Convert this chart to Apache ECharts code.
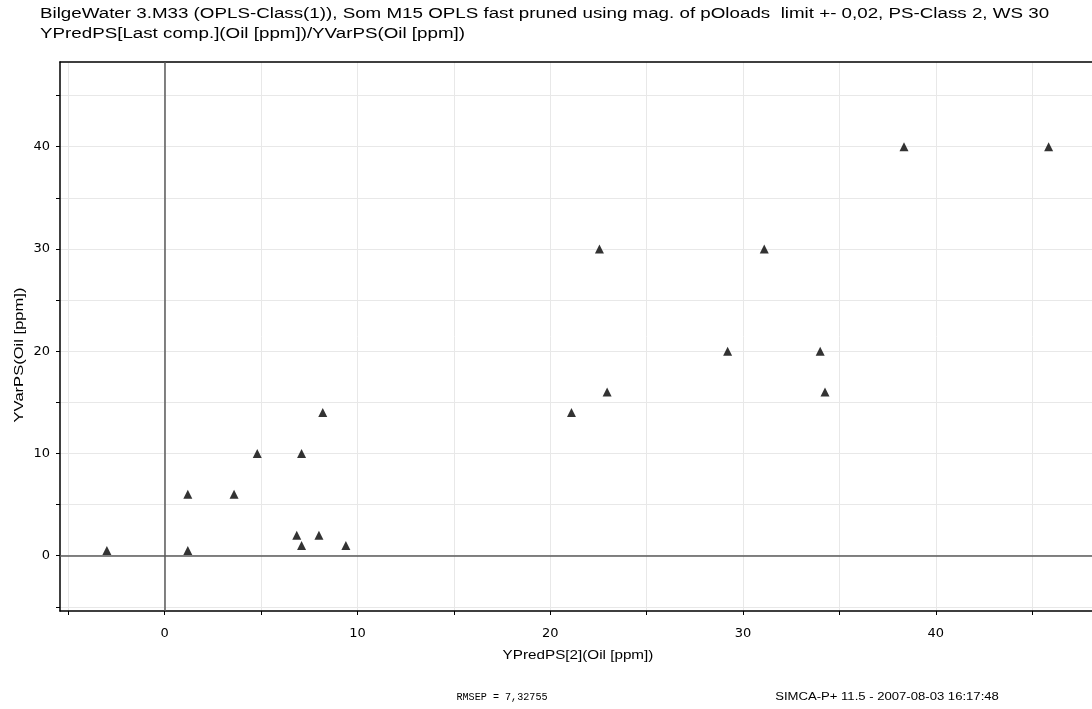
<!DOCTYPE html>
<html>
<head>
<meta charset="utf-8">
<title>YPredPS / YVarPS</title>
<script src="https://cdn.jsdelivr.net/npm/echarts@6/dist/echarts.min.js"></script>
<style>
  html, body { margin: 0; padding: 0; background: #fff; }
  #chart { width: 1092px; height: 709px; }
</style>
</head>
<body>
<div id="chart"></div>
<script>
const yPred = [-3.0, 1.2, 1.2, 3.6, 4.8, 6.85, 7.1, 7.1, 8.0, 8.2, 9.4, 21.1, 22.55, 22.95, 29.2, 31.1, 34.0, 34.25, 38.35, 45.85];
const yVar  = [0.5, 0.5, 6, 6, 10, 2, 1, 10, 2, 14, 1, 14, 30, 16, 20, 30, 20, 16, 40, 40];

const xTicks = [-5, 0, 5, 10, 15, 20, 25, 30, 35, 40, 45];
const yTicks = [-5, 0, 5, 10, 15, 20, 25, 30, 35, 40, 45];
const labelValues = [0, 10, 20, 30, 40];

const titleLines = [
  'BilgeWater 3.M33 (OPLS-Class(1)), Som M15 OPLS fast pruned using mag. of pOloads  limit +- 0,02, PS-Class 2, WS 30',
  'YPredPS[Last comp.](Oil [ppm])/YVarPS(Oil [ppm])'
];

const font = 'Liberation Sans, Arial, sans-serif';
const tickFont = 'DejaVu Sans, sans-serif';

let chart = echarts.init(document.getElementById('chart'));

let axisCommon = {
  type: 'value',
  axisLine: { show: true, onZero: false, lineStyle: { color: '#000', width: 1.5 } },
  axisTick: { show: true, inside: false, length: 4, lineStyle: { color: '#000' } },
  axisLabel: { color: '#000', fontFamily: tickFont, fontSize: 13 },
  splitLine: { show: true, lineStyle: { color: '#e8e8e8', width: 1 } }
};

// the original text is drawn a bit wider than the font, so stretch it
function label(text, x, y, size, sx, extra, fam) {
  return {
    type: 'text', x: x, y: y, scaleX: sx, ...extra,
    style: { text: text, font: size + 'px ' + (fam || font), fill: '#000', verticalAlign: 'middle', ...(extra && extra.style) }
  };
}

let option = {
  animation: false,
  backgroundColor: '#fff',
  grid: { left: 60, top: 62, right: 0, bottom: 98 },
  xAxis: [
    {
      ...axisCommon,
      min: -5.43, max: 48.1,
      axisTick: { ...axisCommon.axisTick, customValues: xTicks },
      axisLabel: { ...axisCommon.axisLabel, customValues: labelValues, margin: 16 }
    },
    {
      type: 'value', position: 'top',
      min: -5.43, max: 48.1,
      axisLine: { show: true, onZero: false, lineStyle: { color: '#000', width: 1.5 } },
      axisTick: { show: false }, axisLabel: { show: false }, splitLine: { show: false }
    }
  ],
  yAxis: {
    ...axisCommon,
    min: -5.41, max: 48.28,
    axisTick: { ...axisCommon.axisTick, customValues: yTicks },
    axisLabel: { ...axisCommon.axisLabel, customValues: labelValues, margin: 10 }
  },
  graphic: [
    label(titleLines[0], 40, 14, 14, 1.34),
    label(titleLines[1], 40, 34, 14, 1.34),
    label('YPredPS[2](Oil [ppm])', 578, 656, 12, 1.27, { style: { align: 'center' } }),
    label('YVarPS(Oil [ppm])', 20, 355, 12, 1.38, { rotation: Math.PI / 2, style: { align: 'center' } }),
    label('RMSEP = 7,32755', 502, 697, 11, 0.92, { style: { align: 'center' } }, 'Liberation Mono, DejaVu Sans Mono, monospace'),
    label('SIMCA-P+ 11.5 - 2007-08-03 16:17:48', 887, 697, 10, 1.31, { style: { align: 'center' } })
  ],
  series: [
    {
      type: 'scatter',
      symbol: 'triangle',
      symbolSize: 9,
      itemStyle: { color: '#000' },
      data: yPred.map((x, i) => [x, yVar[i]]),
      z: 5,
      markLine: {
        silent: true,
        symbol: 'none',
        label: { show: false },
        lineStyle: { color: '#5a5a5a', width: 1.5, type: 'solid' },
        data: [{ xAxis: 0 }, { yAxis: 0 }]
      }
    }
  ]
};

chart.setOption(option);
</script>
</body>
</html>
